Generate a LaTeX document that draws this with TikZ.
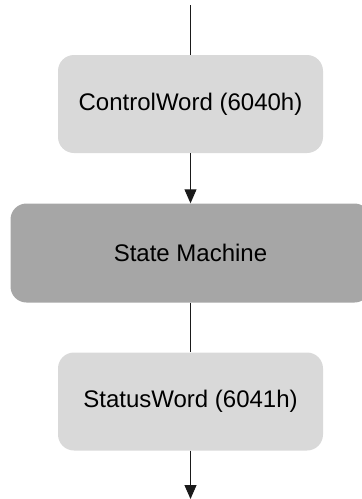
\documentclass[tikz,border=0pt]{standalone}
\usepackage{fontspec}
\setmainfont{Liberation Sans}
\usetikzlibrary{arrows.meta}
\definecolor{lightbox}{HTML}{D9D9D9}
\definecolor{darkbox}{HTML}{A6A6A6}
\definecolor{linec}{HTML}{1A1A1A}
\tikzset{
  wordbox/.style={fill=lightbox, draw=none, rounded corners=16pt, minimum width=265pt, minimum height=98pt, inner sep=0pt, font=\fontsize{24pt}{28pt}\selectfont},
  smbox/.style={fill=darkbox, draw=none, rounded corners=16pt, minimum width=360pt, minimum height=99pt, inner sep=0pt, font=\fontsize{24pt}{28pt}\selectfont},
  conn/.style={draw=linec, line width=1pt},
  arr/.style={conn, -{Triangle[length=14pt,width=12pt]}}
}
\begin{document}
\begin{tikzpicture}[x=1pt,y=1pt]
\useasboundingbox (0,0) rectangle (362,-499);
\clip (0,0) rectangle (362,-499);
\coordinate (top) at (190.5,-5);
\coordinate (bot) at (190.5,-499);
\node[wordbox] (cw) at (190.5,-104) {ControlWord (6040h)};
\node[smbox] (sm) at (190.5,-253) {State Machine};
\node[wordbox] (sw) at (190.5,-401.5) {StatusWord (6041h)};
\draw[conn] (top) -- (cw.north);
\draw[arr] (cw.south) -- (sm.north);
\draw[conn] (sm.south) -- (sw.north);
\draw[arr] (sw.south) -- (bot);
\end{tikzpicture}
\end{document}
